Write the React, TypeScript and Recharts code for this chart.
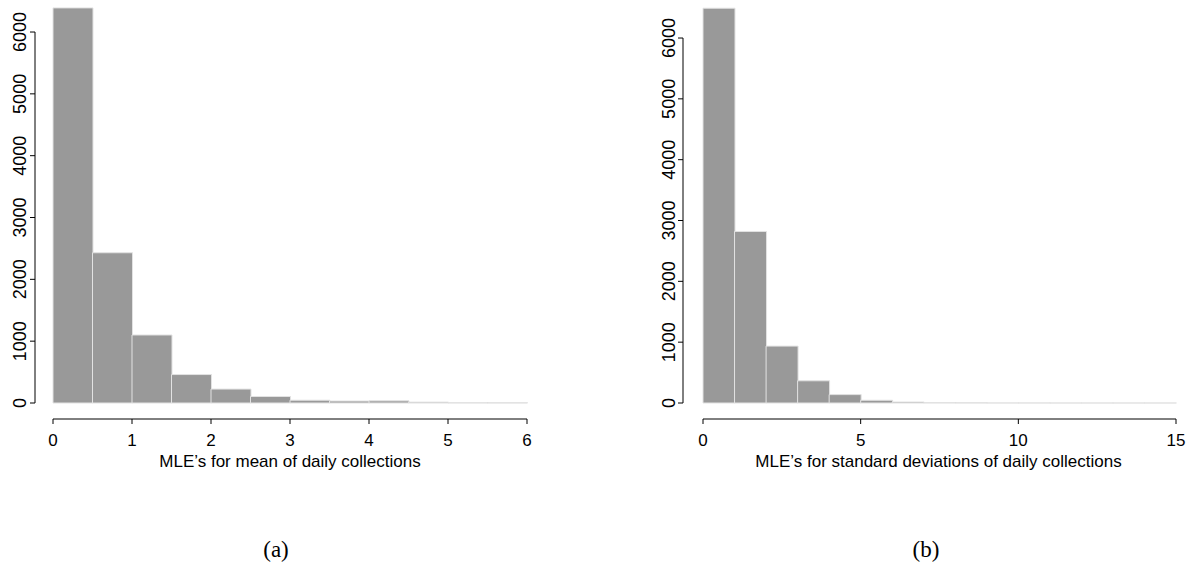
import React from "react";
import { BarChart, Bar, XAxis, YAxis } from "recharts";

// ---- data ----
const MEAN_BINS = ["0-0.5", "0.5-1", "1-1.5", "1.5-2", "2-2.5", "2.5-3", "3-3.5", "3.5-4", "4-4.5", "4.5-5", "5-5.5", "5.5-6"];
const MEAN_LOWER = [0, 0.5, 1, 1.5, 2, 2.5, 3, 3.5, 4, 4.5, 5, 5.5];
const MEAN_COUNTS = [6390, 2430, 1100, 460, 225, 105, 45, 32, 35, 14, 4, 3];
const MEAN_TICKS = [0, 1, 2, 3, 4, 5, 6];
const MEAN_TITLE = "MLE’s for mean of daily collections";

const SD_BINS = ["0-1", "1-2", "2-3", "3-4", "4-5", "5-6", "6-7", "7-8", "8-9", "9-10", "10-11", "11-12", "12-13", "13-14", "14-15"];
const SD_LOWER = [0, 1, 2, 3, 4, 5, 6, 7, 8, 9, 10, 11, 12, 13, 14];
const SD_COUNTS = [6490, 2820, 935, 365, 138, 45, 16, 5, 3, 2, 2, 1, 1, 1, 1];
const SD_TICKS = [0, 5, 10, 15];
const SD_TITLE = "MLE’s for standard deviations of daily collections";

const COUNT_TICKS = [0, 1000, 2000, 3000, 4000, 5000, 6000];
const CAPTIONS = ["(a)", "(b)"];

const YTick = (props: any) => {
  const { x, y, payload } = props;
  return (
    <text x={x} y={y} transform={`rotate(-90 ${x} ${y})`} textAnchor="middle" fontSize={18} fill="#000">
      {payload.value}
    </text>
  );
};

type PanelProps = {
  bins: string[];
  lower: number[];
  counts: number[];
  xTicks: number[];
  title: string;
  left: number;
  width: number;
  marginRight: number;
  yAxisWidth: number;
  gapX: number;
  yMax: number;
  yLineStart: number;
  yLineLen: number;
  tickMargin: number;
  titleDx: number;
};

const Panel = (p: PanelProps) => {
  const data = p.bins.map((b, i) => ({ bin: b, lo: p.lower[i], count: p.counts[i] }));
  const xMax = p.xTicks[p.xTicks.length - 1];
  return (
    <div style={{ position: "absolute", left: p.left, top: 0 }}>
      <BarChart
        width={p.width}
        height={480}
        data={data}
        margin={{ top: 0, right: p.marginRight, bottom: 5, left: 0 }}
        barCategoryGap={0}
        barGap={0}
      >
        <XAxis xAxisId="bins" dataKey="bin" hide height={0} padding={{ left: p.gapX, right: 0 }} />
        <XAxis
          xAxisId="num"
          dataKey="lo"
          type="number"
          domain={[0, xMax]}
          allowDataOverflow
          ticks={p.xTicks}
          interval={0}
          padding={{ left: p.gapX, right: 0 }}
          height={56}
          tickSize={5}
          tickMargin={10}
          tick={{ fill: "#000", fontSize: 17 }}
          tickLine={{ stroke: "#000" }}
          axisLine={{ stroke: "#000", strokeDasharray: `0 ${p.gapX} 3000` }}
          label={{ value: p.title, position: "insideBottom", offset: 8, dx: p.titleDx, fill: "#000", fontSize: 17 } as any}
        />
        <YAxis
          type="number"
          domain={[0, p.yMax]}
          ticks={COUNT_TICKS}
          interval={0}
          width={p.yAxisWidth}
          padding={{ top: 0, bottom: 16 }}
          tickSize={5}
          tickMargin={p.tickMargin}
          tick={<YTick />}
          tickLine={{ stroke: "#000" }}
          axisLine={{ stroke: "#000", strokeDasharray: `0 ${p.yLineStart} ${p.yLineLen} 3000` }}
        />
        <Bar xAxisId="bins" dataKey="count" fill="#999999" stroke="#e2e2e2" strokeWidth={1} isAnimationActive={false} />
      </BarChart>
    </div>
  );
};

export default function App() {
  return (
    <div
      style={{
        position: "absolute",
        left: 0,
        top: 0,
        width: 1188,
        height: 573,
        background: "#fff",
        fontFamily: "'Liberation Sans', Arial, sans-serif",
        overflow: "hidden",
      }}
    >
      <Panel
        bins={MEAN_BINS}
        lower={MEAN_LOWER}
        counts={MEAN_COUNTS}
        xTicks={MEAN_TICKS}
        title={MEAN_TITLE}
        left={0}
        width={560}
        marginRight={33}
        yAxisWidth={35}
        gapX={18}
        yMax={6518}
        yLineStart={32}
        yLineLen={371}
        tickMargin={4}
        titleDx={9}
      />
      <Panel
        bins={SD_BINS}
        lower={SD_LOWER}
        counts={SD_COUNTS}
        xTicks={SD_TICKS}
        title={SD_TITLE}
        left={640}
        width={548}
        marginRight={12}
        yAxisWidth={43}
        gapX={20}
        yMax={6625}
        yLineStart={38}
        yLineLen={365}
        tickMargin={3}
        titleDx={9}
      />
      <svg width={1188} height={573} style={{ position: "absolute", left: 0, top: 0, pointerEvents: "none" }}>
        <text x={276} y={557} textAnchor="middle" fontSize={23} fontFamily="'Liberation Serif', 'DejaVu Serif', serif" fill="#000">
          {CAPTIONS[0]}
        </text>
        <text x={926} y={557} textAnchor="middle" fontSize={23} fontFamily="'Liberation Serif', 'DejaVu Serif', serif" fill="#000">
          {CAPTIONS[1]}
        </text>
      </svg>
    </div>
  );
}
